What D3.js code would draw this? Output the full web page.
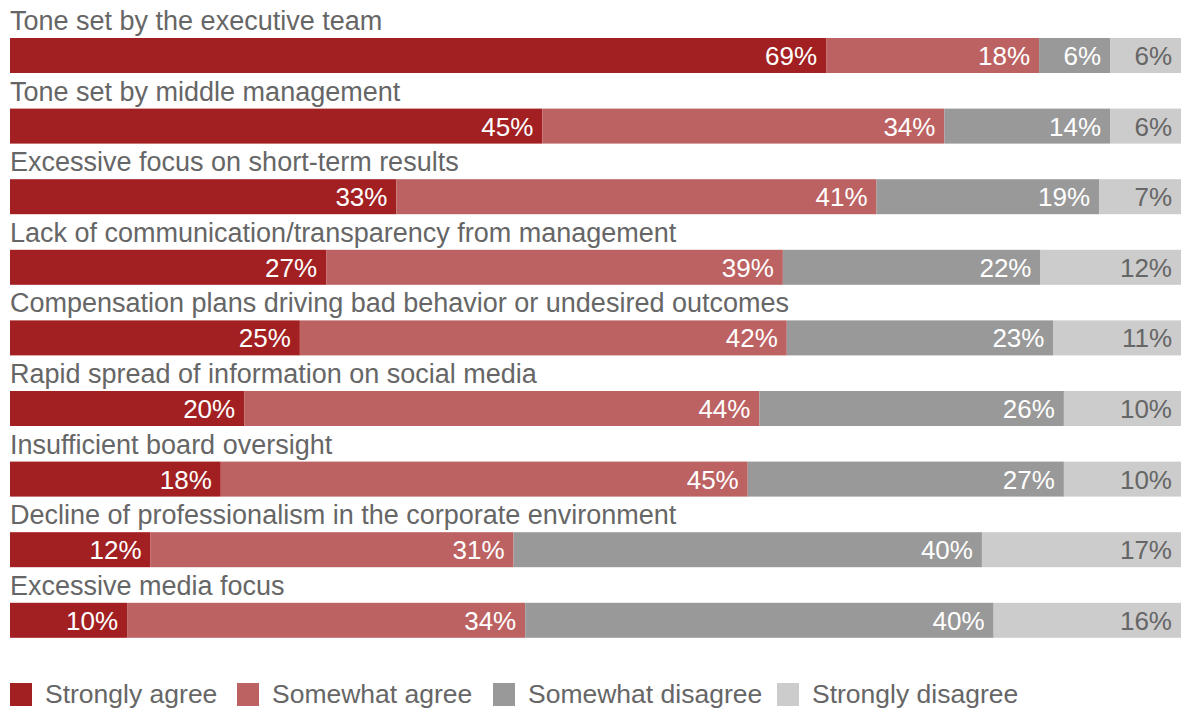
<!DOCTYPE html>
<html>
<head>
<meta charset="utf-8">
<script src="https://cdn.jsdelivr.net/npm/d3@7"></script>
<style>
  body { margin: 0; background: #fff; }
  svg { display: block; font-family: "Liberation Sans", Arial, sans-serif; }
</style>
</head>
<body>
<div id="chart"></div>
<script>
// categories, top to bottom
const categories = [
  'Tone set by the executive team',
  'Tone set by middle management',
  'Excessive focus on short-term results',
  'Lack of communication/transparency from management',
  'Compensation plans driving bad behavior or undesired outcomes',
  'Rapid spread of information on social media',
  'Insufficient board oversight',
  'Decline of professionalism in the corporate environment',
  'Excessive media focus'
]

const seriesNames = ['Strongly agree', 'Somewhat agree', 'Somewhat disagree', 'Strongly disagree']

const stronglyAgree = [69, 45, 33, 27, 25, 20, 18, 12, 10]
const somewhatAgree = [18, 34, 41, 39, 42, 44, 45, 31, 34]
const somewhatDisagree = [6, 14, 19, 22, 23, 26, 27, 40, 40]
const stronglyDisagree = [6, 6, 7, 12, 11, 10, 10, 17, 16]

const colors = ['#a21f22', '#bd6262', '#999999', '#cccccc']
const labelColors = ['#ffffff', '#ffffff', '#ffffff', '#666666']

const width = 1181
const height = 711

const rows = categories.map((c, i) => {
  const vals = [stronglyAgree[i], somewhatAgree[i], somewhatDisagree[i], stronglyDisagree[i]]
  const total = d3.sum(vals)
  let acc = 0
  const segs = vals.map((v, k) => {
    const s = { key: k, value: v, x0: acc / total, x1: (acc + v) / total }
    acc += v
    return s
  })
  return { name: c, segs: segs }
})

const svg = d3.select('#chart').append('svg')
  .attr('width', width)
  .attr('height', height)

const x = d3.scaleLinear().domain([0, 1]).range([10, 1181])
const y = d3.scaleBand().domain(categories).range([38, 38 + 70.6 * categories.length]).paddingInner(0)
const barH = 35

const row = svg.selectAll('g.row')
  .data(rows)
  .enter()
  .append('g')
  .attr('class', 'row')
  .attr('transform', d => `translate(0,${y(d.name)})`)

row.append('text')
  .attr('x', 10)
  .attr('y', -8)
  .attr('fill', '#666666')
  .style('font-size', '27px')
  .text(d => d.name)

const seg = row.selectAll('g.seg')
  .data(d => d.segs)
  .enter()
  .append('g')
  .attr('class', 'seg')

seg.append('rect')
  .attr('x', d => x(d.x0))
  .attr('y', 0)
  .attr('width', d => x(d.x1) - x(d.x0))
  .attr('height', barH)
  .attr('fill', d => colors[d.key])

seg.append('text')
  .attr('x', d => x(d.x1) - 9)
  .attr('y', 27)
  .attr('text-anchor', 'end')
  .attr('fill', d => labelColors[d.key])
  .style('font-size', '26px')
  .text(d => d.value + '%')

// legend
const legendX = [10, 237, 493, 777]
const legend = svg.selectAll('g.legend')
  .data(seriesNames)
  .enter()
  .append('g')
  .attr('class', 'legend')
  .attr('transform', (d, i) => `translate(${legendX[i]},683)`)

legend.append('rect')
  .attr('width', 22)
  .attr('height', 23)
  .attr('fill', (d, i) => colors[i])

legend.append('text')
  .attr('x', 35)
  .attr('y', 20)
  .attr('fill', '#666666')
  .style('font-size', '26.5px')
  .text(d => d)
</script>
</body>
</html>
